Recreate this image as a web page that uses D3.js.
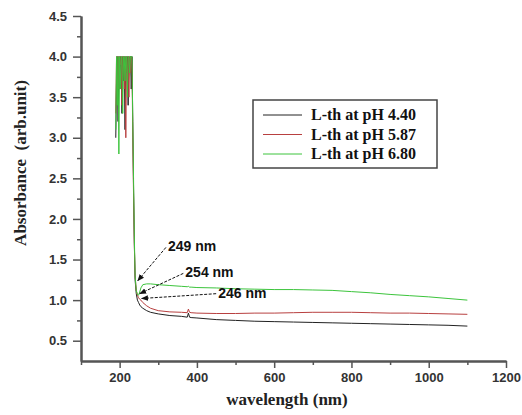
<!DOCTYPE html>
<html>
<head>
<meta charset="utf-8">
<script src="https://cdn.jsdelivr.net/npm/d3@7"></script>
<style>
  body { margin: 0; background: #fff; }
  svg { display: block; }
  .tick text { font-family: "Liberation Sans", Arial, sans-serif; font-weight: bold; font-size: 13px; fill: #333; }
  .axis path, .axis line { stroke: #555; }
</style>
</head>
<body>
<svg width="522" height="415"></svg>
<script>
'use strict';

// wavelength (nm), shared by the three curves
var wavelengths = [190, 192, 194, 196, 198, 200, 202, 204, 206, 208, 210, 212, 214, 216, 218, 220,
  222, 224, 226, 228, 230, 232, 234, 236, 238, 240,
  243, 246, 249, 252, 255, 260, 270, 280, 300, 330, 360, 375, 378, 381, 385, 400,
  450, 500, 550, 600, 650, 700, 750, 800, 850, 900, 950, 1000, 1050, 1100];

var absPH440 = [3.0, 3.7, 4.0, 3.2, 4.0, 3.6, 4.0, 3.9, 3.3, 4.0, 3.7, 4.0, 3.1, 4.0, 3.8, 4.0,
  3.4, 4.0, 3.9, 4.0, 3.6, 4.0, 3.2, 2.4, 1.7, 1.25,
  1.08, 1.0, 0.97, 0.94, 0.92, 0.9, 0.87, 0.85, 0.83, 0.81, 0.80, 0.79, 0.84, 0.79, 0.785, 0.78,
  0.76, 0.75, 0.74, 0.735, 0.73, 0.725, 0.72, 0.715, 0.71, 0.705, 0.70, 0.695, 0.69, 0.68];

var absPH587 = [3.3, 4.0, 3.5, 4.0, 3.6, 4.0, 3.9, 4.0, 3.4, 4.0, 4.0, 3.6, 4.0, 3.0, 4.0, 3.7,
  4.0, 3.5, 4.0, 3.8, 4.0, 3.9, 3.0, 2.3, 1.7, 1.3,
  1.12, 1.06, 1.03, 1.01, 1.0, 0.97, 0.93, 0.9, 0.87, 0.855, 0.85, 0.845, 0.89, 0.85, 0.845, 0.84,
  0.835, 0.835, 0.84, 0.84, 0.845, 0.85, 0.85, 0.85, 0.845, 0.84, 0.84, 0.835, 0.83, 0.825];

var absPH680 = [3.1, 4.0, 3.4, 4.0, 2.8, 4.0, 3.6, 4.0, 4.0, 3.3, 4.0, 4.0, 3.7, 4.0, 4.0, 3.5,
  4.0, 4.0, 3.8, 4.0, 4.0, 4.0, 3.2, 2.5, 1.8, 1.3,
  1.12, 1.07, 1.06, 1.1, 1.15, 1.19, 1.2, 1.2, 1.19, 1.18, 1.17, 1.165, 1.17, 1.16, 1.16, 1.155,
  1.15, 1.14, 1.135, 1.13, 1.13, 1.125, 1.12, 1.105, 1.09, 1.07, 1.055, 1.04, 1.02, 1.0];

var seriesNames = ["L-th at pH 4.40", "L-th at pH 5.87", "L-th at pH 6.80"];
var seriesColors = ["#222222", "#b84040", "#3cc43c"];

var xTicks = [200, 400, 600, 800, 1000, 1200];
var xMinor = [100, 300, 500, 700, 900, 1100];
var yTicks = [0.5, 1.0, 1.5, 2.0, 2.5, 3.0, 3.5, 4.0, 4.5];
var yMinor = [0.75, 1.25, 1.75, 2.25, 2.75, 3.25, 3.75, 4.25];

// peak labels: text, arrow tip (wl, abs), text anchor (wl, abs)
var peakLabels = ["249 nm", "254 nm", "246 nm"];
var peakTip = [[247, 1.24], [252, 1.08], [257, 1.02]];
var peakText = [[325, 1.6], [370, 1.28], [455, 1.03]];

var svg = d3.select("svg");

var x = d3.scaleLinear().domain([100, 1200]).range([81, 506]);
var y = d3.scaleLinear().domain([0.25, 4.5]).range([361, 16]);

// axes: minor ticks first, then major with labels
svg.append("g").attr("class", "axis")
  .attr("transform", "translate(0,361)")
  .call(d3.axisBottom(x).tickValues(xMinor).tickSize(4).tickFormat("").tickSizeOuter(0));
svg.append("g").attr("class", "axis")
  .attr("transform", "translate(81,0)")
  .call(d3.axisLeft(y).tickValues(yMinor).tickSize(4).tickFormat("").tickSizeOuter(0));

svg.append("g").attr("class", "axis")
  .attr("transform", "translate(0,361)")
  .call(d3.axisBottom(x).tickValues(xTicks).tickSize(7).tickPadding(5).tickFormat(d3.format("d")).tickSizeOuter(0));
svg.append("g").attr("class", "axis")
  .attr("transform", "translate(81,0)")
  .call(d3.axisLeft(y).tickValues(yTicks).tickSize(8).tickPadding(6).tickFormat(d3.format(".1f")).tickSizeOuter(0));

svg.selectAll(".axis path").attr("stroke-width", 2);
svg.selectAll(".axis .tick line").attr("stroke-width", 1.5);

// curves
var curves = [absPH440, absPH587, absPH680];
var line = d3.line()
  .x(function (d, i) { return x(wavelengths[i]); })
  .y(function (d) { return y(d); });

curves.forEach(function (vals, k) {
  svg.append("path")
    .datum(vals)
    .attr("fill", "none")
    .attr("stroke", seriesColors[k])
    .attr("stroke-width", 1)
    .attr("d", line);
});

// arrows
svg.append("defs").append("marker")
  .attr("id", "arrow")
  .attr("viewBox", "0 0 10 10")
  .attr("refX", 9).attr("refY", 5)
  .attr("markerWidth", 7).attr("markerHeight", 7)
  .attr("orient", "auto")
  .append("path").attr("d", "M0,1 L10,5 L0,9 Z").attr("fill", "#111");

peakLabels.forEach(function (lab, i) {
  var tx = x(peakText[i][0]), ty = y(peakText[i][1]);
  svg.append("line")
    .attr("x1", tx - 2).attr("y1", ty - 4)
    .attr("x2", x(peakTip[i][0])).attr("y2", y(peakTip[i][1]))
    .attr("stroke", "#111").attr("stroke-width", 1)
    .attr("stroke-dasharray", "3,1.5")
    .attr("marker-end", "url(#arrow)");
  svg.append("text")
    .attr("x", tx).attr("y", ty)
    .attr("font-family", "Liberation Sans, Arial, sans-serif")
    .attr("font-weight", "bold").attr("font-size", 14).attr("fill", "#111")
    .text(lab);
});

// legend
var lg = svg.append("g");
lg.append("rect")
  .attr("x", 253).attr("y", 100).attr("width", 184).attr("height", 68)
  .attr("fill", "#fff").attr("stroke", "#444").attr("stroke-width", 1.5);
seriesNames.forEach(function (name, i) {
  var ly = 115 + i * 19.5;
  lg.append("line")
    .attr("x1", 263).attr("x2", 302).attr("y1", ly).attr("y2", ly)
    .attr("stroke", seriesColors[i]).attr("stroke-width", 1);
  lg.append("text")
    .attr("x", 311).attr("y", ly + 5)
    .attr("font-family", "Liberation Serif, Times New Roman, serif")
    .attr("font-weight", "bold").attr("font-size", 16).attr("fill", "#111")
    .text(name);
});

// axis titles
svg.append("text")
  .attr("x", 287).attr("y", 405)
  .attr("text-anchor", "middle")
  .attr("font-family", "Liberation Serif, Times New Roman, serif")
  .attr("font-weight", "bold").attr("font-size", 17).attr("fill", "#222")
  .text("wavelength (nm)");

svg.append("text")
  .attr("transform", "translate(26,163) rotate(-90)")
  .attr("text-anchor", "middle")
  .attr("font-family", "Liberation Serif, Times New Roman, serif")
  .attr("font-weight", "bold").attr("font-size", 17).attr("fill", "#222")
  .attr("xml:space", "preserve")
  .text("Absorbance  (arb.unit)");
</script>
</body>
</html>
